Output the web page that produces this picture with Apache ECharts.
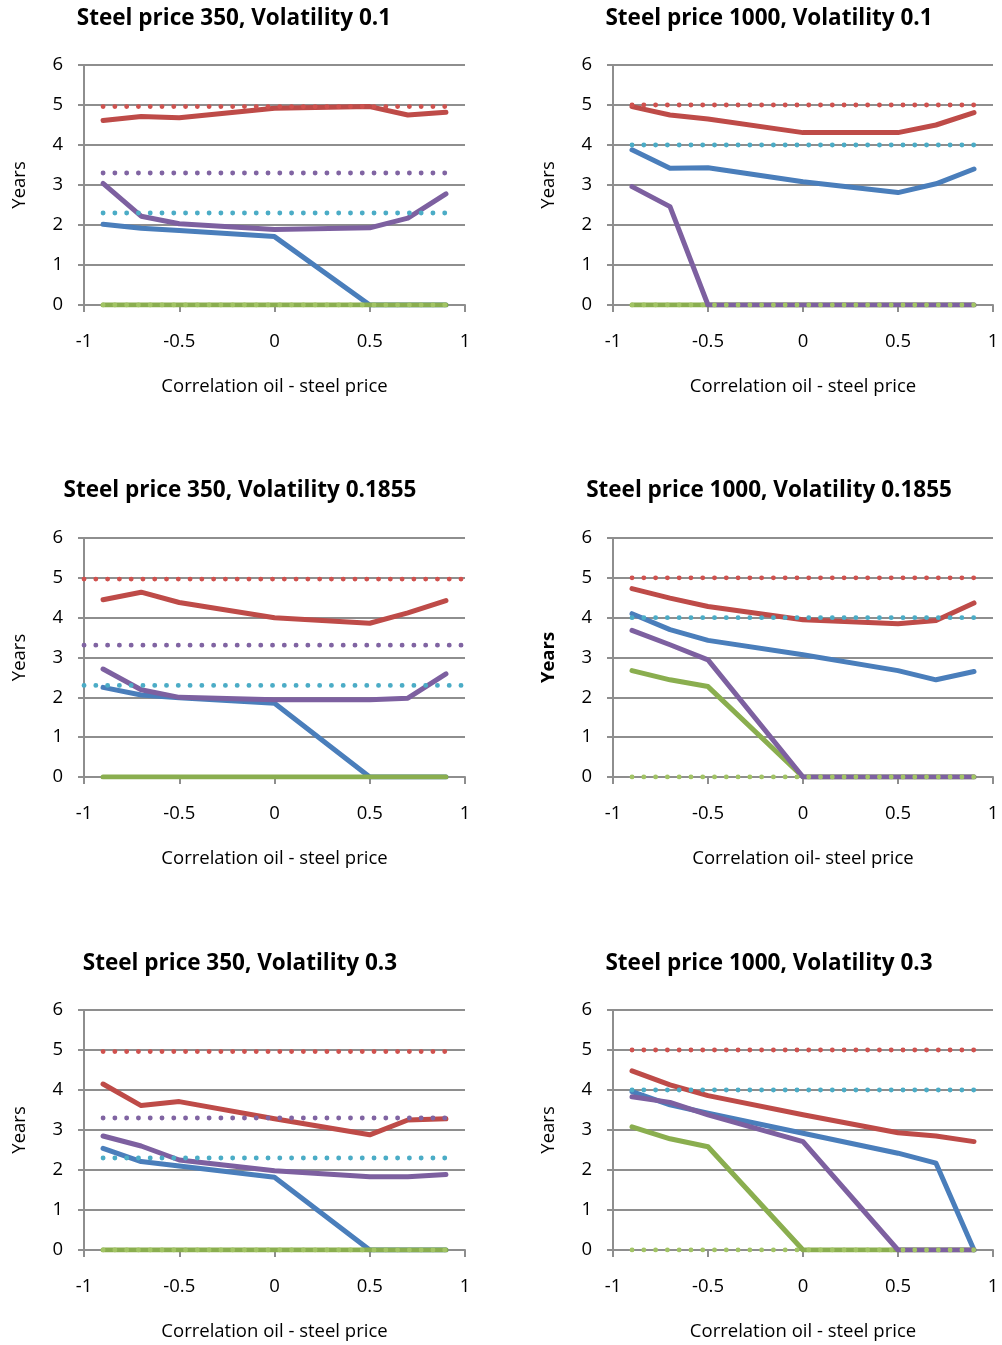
<!DOCTYPE html>
<html>
<head>
<meta charset="utf-8">
<script src="https://cdn.jsdelivr.net/npm/echarts@6/dist/echarts.min.js"></script>
<style>
html,body{margin:0;padding:0;background:#fff;}
#chart{width:1002px;height:1345px;}
</style>
</head>
<body>
<div id="chart"></div>
<script>
// ---------- data ----------
const titles = [
  'Steel price 350, Volatility 0.1',
  'Steel price 1000, Volatility 0.1',
  'Steel price 350, Volatility 0.1855',
  'Steel price 1000, Volatility 0.1855',
  'Steel price 350, Volatility 0.3',
  'Steel price 1000, Volatility 0.3'
];
const xNames = [
  'Correlation oil - steel price',
  'Correlation oil - steel price',
  'Correlation oil - steel price',
  'Correlation oil- steel price',
  'Correlation oil - steel price',
  'Correlation oil - steel price'
];
const yName = 'Years';
const xTicks = [-1, -0.5, 0, 0.5, 1];
const yTicks = [0, 1, 2, 3, 4, 5, 6];

const corr = [-0.9, -0.7, -0.5, 0, 0.5, 0.7, 0.9];
const corrWide = [-1, 1];

// Panel 1: steel 350, vol 0.1
const p1Blue   = [2.02, 1.92, 1.86, 1.71, 0, 0, 0];
const p1Red    = [4.61, 4.71, 4.68, 4.92, 4.96, 4.75, 4.82];
const p1Green  = [0, 0, 0, 0, 0, 0, 0];
const p1Purple = [3.04, 2.22, 2.03, 1.89, 1.93, 2.17, 2.78];
const p1RefRed    = [4.96, 4.96, 4.96, 4.96, 4.96, 4.96, 4.96];
const p1RefTeal   = [2.3, 2.3, 2.3, 2.3, 2.3, 2.3, 2.3];
const p1RefPurple = [3.3, 3.3, 3.3, 3.3, 3.3, 3.3, 3.3];
const p1RefGreen  = [0, 0, 0, 0, 0, 0, 0];

// Panel 2: steel 1000, vol 0.1
const p2Blue   = [3.88, 3.42, 3.43, 3.08, 2.81, 3.03, 3.40];
const p2Red    = [4.96, 4.75, 4.65, 4.31, 4.31, 4.50, 4.81];
const p2Green  = [0, 0, 0, 0, 0, 0, 0];
const p2Purple = [2.96, 2.46, 0, 0, 0, 0, 0];
const p2RefRed   = [5, 5, 5, 5, 5, 5, 5];
const p2RefTeal  = [4, 4, 4, 4, 4, 4, 4];
const p2RefGreen = [0, 0, 0, 0, 0, 0, 0];

// Panel 3: steel 350, vol 0.1855
const p3Blue   = [2.25, 2.06, 1.99, 1.85, 0, 0, 0];
const p3Red    = [4.45, 4.64, 4.38, 4.00, 3.86, 4.12, 4.43];
const p3Green  = [0, 0, 0, 0, 0, 0, 0];
const p3Purple = [2.71, 2.19, 2.00, 1.94, 1.94, 1.98, 2.59];
const p3RefRed    = [4.97, 4.97];
const p3RefTeal   = [2.3, 2.3];
const p3RefPurple = [3.31, 3.31];

// Panel 4: steel 1000, vol 0.1855
const p4Blue   = [4.10, 3.70, 3.43, 3.07, 2.67, 2.44, 2.65];
const p4Red    = [4.73, 4.49, 4.28, 3.95, 3.85, 3.93, 4.37];
const p4Green  = [2.67, 2.44, 2.27, 0, 0, 0, 0];
const p4Purple = [3.68, 3.32, 2.94, 0, 0, 0, 0];
const p4RefRed   = [5, 5, 5, 5, 5, 5, 5];
const p4RefTeal  = [4, 4, 4, 4, 4, 4, 4];
const p4RefGreen = [0, 0, 0, 0, 0, 0, 0];

// Panel 5: steel 350, vol 0.3
const p5Blue   = [2.54, 2.21, 2.10, 1.82, 0, 0, 0];
const p5Red    = [4.15, 3.61, 3.71, 3.28, 2.88, 3.25, 3.28];
const p5Green  = [0, 0, 0, 0, 0, 0, 0];
const p5Purple = [2.85, 2.60, 2.25, 1.98, 1.83, 1.83, 1.89];
const p5RefRed    = [4.96, 4.96, 4.96, 4.96, 4.96, 4.96, 4.96];
const p5RefTeal   = [2.3, 2.3, 2.3, 2.3, 2.3, 2.3, 2.3];
const p5RefPurple = [3.3, 3.3, 3.3, 3.3, 3.3, 3.3, 3.3];
const p5RefGreen  = [0, 0, 0, 0, 0, 0, 0];

// Panel 6: steel 1000, vol 0.3
const p6Blue   = [3.96, 3.63, 3.42, 2.92, 2.42, 2.17, 0];
const p6Red    = [4.48, 4.13, 3.86, 3.38, 2.93, 2.85, 2.71];
const p6Green  = [3.08, 2.78, 2.58, 0, 0, 0, 0];
const p6Purple = [3.83, 3.69, 3.38, 2.71, 0, 0, 0];
const p6RefRed   = [5, 5, 5, 5, 5, 5, 5];
const p6RefTeal  = [4, 4, 4, 4, 4, 4, 4];
const p6RefGreen = [0, 0, 0, 0, 0, 0, 0];

// ---------- styling / layout ----------
const FONT = '"Open Sans", Lato, sans-serif';
const GRAY = '#8e8e8e';
const C = {
  blue: '#4A7EBB', red: '#BE4B48', green: '#8AAE4F', purple: '#7D60A0',
  dRed: '#D0514E', dTeal: '#4BACC6', dPurple: '#8064A2', dGreen: '#A2C465'
};
const grids = [
  {left: 84,  top: 65,   width: 381, height: 240},
  {left: 613, top: 65,   width: 380, height: 240},
  {left: 84,  top: 538,  width: 381, height: 239},
  {left: 613, top: 538,  width: 380, height: 239},
  {left: 84,  top: 1010, width: 381, height: 240},
  {left: 613, top: 1010, width: 380, height: 240}
];
const titlePos = [[229, 2], [764, 2], [235, 474], [764, 474], [235, 947], [764, 947]];

const panels = [
  {solid: [[p1Blue, C.blue], [p1Red, C.red], [p1Green, C.green], [p1Purple, C.purple]],
   dotted: [[corr, p1RefRed, C.dRed], [corr, p1RefTeal, C.dTeal], [corr, p1RefPurple, C.dPurple], [corr, p1RefGreen, C.dGreen]]},
  {solid: [[p2Blue, C.blue], [p2Red, C.red], [p2Green, C.green], [p2Purple, C.purple]],
   dotted: [[corr, p2RefRed, C.dRed], [corr, p2RefTeal, C.dTeal], [corr, p2RefGreen, C.dGreen]]},
  {solid: [[p3Blue, C.blue], [p3Red, C.red], [p3Green, C.green], [p3Purple, C.purple]],
   dotted: [[corrWide, p3RefRed, C.dRed], [corrWide, p3RefTeal, C.dTeal], [corrWide, p3RefPurple, C.dPurple]]},
  {solid: [[p4Blue, C.blue], [p4Red, C.red], [p4Green, C.green], [p4Purple, C.purple]],
   dotted: [[corr, p4RefRed, C.dRed], [corr, p4RefTeal, C.dTeal], [corr, p4RefGreen, C.dGreen]]},
  {solid: [[p5Blue, C.blue], [p5Red, C.red], [p5Green, C.green], [p5Purple, C.purple]],
   dotted: [[corr, p5RefRed, C.dRed], [corr, p5RefTeal, C.dTeal], [corr, p5RefPurple, C.dPurple], [corr, p5RefGreen, C.dGreen]]},
  {solid: [[p6Blue, C.blue], [p6Red, C.red], [p6Green, C.green], [p6Purple, C.purple]],
   dotted: [[corr, p6RefRed, C.dRed], [corr, p6RefTeal, C.dTeal], [corr, p6RefGreen, C.dGreen]]}
];

const zip = (xs, ys) => xs.map((x, i) => [x, ys[i]]);

const option = {
  animation: false,
  backgroundColor: '#fff',
  title: titles.map((t, i) => ({
    text: t, left: titlePos[i][0], top: titlePos[i][1], textAlign: 'center',
    textStyle: {fontFamily: FONT, fontWeight: 'bold', fontSize: 22.5, color: '#000'}
  })),
  grid: grids,
  xAxis: grids.map((g, i) => ({
    type: 'value', gridIndex: i, min: xTicks[0], max: xTicks[xTicks.length - 1], interval: 0.5,
    name: xNames[i], nameLocation: 'middle', nameGap: 72,
    nameTextStyle: {fontFamily: FONT, fontSize: 18.5, color: '#000'},
    axisLine: {show: true, onZero: false, lineStyle: {color: GRAY, width: 2}},
    axisTick: {show: true, length: 7, lineStyle: {color: GRAY, width: 2}},
    axisLabel: {fontFamily: FONT, fontSize: 18.5, color: '#000', margin: 27},
    splitLine: {show: false}
  })),
  yAxis: grids.map((g, i) => ({
    type: 'value', gridIndex: i, min: yTicks[0], max: yTicks[yTicks.length - 1], interval: 1,
    name: yName, nameLocation: 'middle', nameGap: 55, nameRotate: 90,
    nameTextStyle: {fontFamily: FONT, fontSize: 18.5, color: '#000', fontWeight: i === 3 ? 'bold' : 'normal'},
    axisLine: {show: true, onZero: false, lineStyle: {color: GRAY, width: 2}},
    axisTick: {show: true, length: 6, lineStyle: {color: GRAY, width: 2}},
    axisLabel: {fontFamily: FONT, fontSize: 18.5, color: '#000', margin: 21},
    splitLine: {show: true, lineStyle: {color: GRAY, width: 2}}
  })),
  series: []
};

panels.forEach((p, i) => {
  p.solid.forEach(([vals, col]) => {
    option.series.push({
      type: 'line', xAxisIndex: i, yAxisIndex: i, data: zip(corr, vals),
      showSymbol: false, symbol: 'none',
      lineStyle: {color: col, width: 5, cap: 'round', join: 'round'}
    });
  });
  p.dotted.forEach(([xs, vals, col]) => {
    option.series.push({
      type: 'line', xAxisIndex: i, yAxisIndex: i, data: zip(xs, vals),
      showSymbol: false, symbol: 'none',
      lineStyle: {color: col, width: 4.8, type: [0.1, 11.68], cap: 'round'}
    });
  });
});

const chart = echarts.init(document.getElementById('chart'), null, {renderer: 'canvas'});
chart.setOption(option);
</script>
</body>
</html>
